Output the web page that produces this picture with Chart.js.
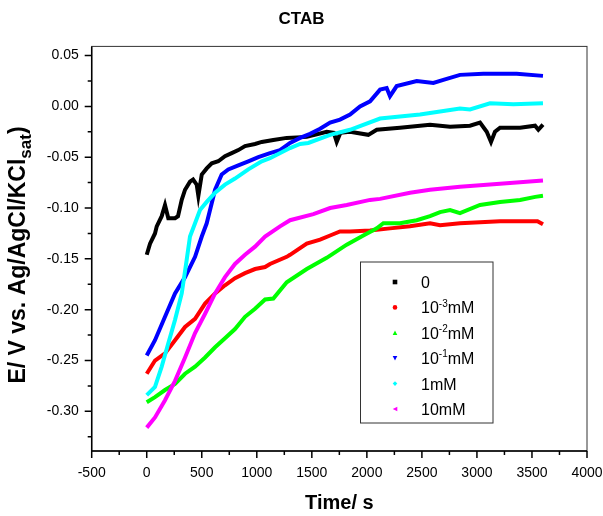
<!DOCTYPE html>
<html>
<head>
<meta charset="utf-8">
<script src="https://cdn.jsdelivr.net/npm/chart.js@4"></script>
<style>
  body { margin: 0; background: #fff; }
  canvas { display: block; }
</style>
</head>
<body>
<canvas id="chart" width="603" height="516"></canvas>
<script>
// series: time (s) and potential (V)
const t0 = [0, 30, 75, 91, 136, 166, 196, 257, 284, 318, 348, 393, 421, 454, 469, 500, 545, 591, 650, 711, 772, 832, 893, 984, 1045, 1150, 1272, 1454, 1635, 1700, 1726, 1760, 1847, 2013, 2090, 2301, 2574, 2756, 2937, 3028, 3089, 3128, 3164, 3210, 3392, 3528, 3558, 3600];
const v0 = [-0.146, -0.135, -0.125, -0.118, -0.108, -0.097, -0.110, -0.110, -0.108, -0.092, -0.082, -0.074, -0.072, -0.077, -0.088, -0.067, -0.061, -0.056, -0.054, -0.049, -0.046, -0.043, -0.039, -0.037, -0.035, -0.033, -0.031, -0.030, -0.025, -0.026, -0.035, -0.026, -0.025, -0.028, -0.023, -0.021, -0.018, -0.020, -0.019, -0.016, -0.025, -0.035, -0.025, -0.021, -0.021, -0.019, -0.023, -0.018];

const t3 = [0, 75, 166, 257, 348, 439, 530, 621, 711, 802, 893, 984, 1075, 1120, 1272, 1302, 1454, 1575, 1666, 1756, 1847, 2029, 2210, 2392, 2574, 2665, 2846, 3210, 3550, 3600];
const v3 = [-0.263, -0.250, -0.243, -0.230, -0.217, -0.209, -0.194, -0.184, -0.176, -0.169, -0.164, -0.160, -0.158, -0.155, -0.148, -0.146, -0.135, -0.131, -0.127, -0.123, -0.123, -0.122, -0.120, -0.118, -0.115, -0.117, -0.115, -0.113, -0.113, -0.116];

const t2 = [0, 75, 166, 257, 348, 439, 530, 621, 711, 802, 893, 984, 1075, 1150, 1272, 1454, 1635, 1817, 1968, 2090, 2150, 2301, 2453, 2574, 2665, 2756, 2846, 3028, 3210, 3392, 3530, 3600];
const v2 = [-0.291, -0.286, -0.279, -0.273, -0.263, -0.256, -0.247, -0.237, -0.228, -0.219, -0.207, -0.199, -0.190, -0.189, -0.173, -0.160, -0.149, -0.136, -0.127, -0.120, -0.115, -0.115, -0.112, -0.108, -0.104, -0.102, -0.105, -0.097, -0.094, -0.092, -0.089, -0.088];

const t1 = [0, 75, 166, 257, 348, 439, 500, 545, 575, 621, 681, 741, 832, 923, 1014, 1120, 1211, 1302, 1393, 1484, 1575, 1666, 1756, 1847, 1938, 2029, 2120, 2180, 2210, 2271, 2453, 2604, 2695, 2846, 3058, 3361, 3600];
const v1 = [-0.245, -0.230, -0.207, -0.184, -0.168, -0.148, -0.128, -0.115, -0.102, -0.082, -0.067, -0.062, -0.058, -0.054, -0.050, -0.046, -0.043, -0.036, -0.031, -0.027, -0.022, -0.016, -0.013, -0.008, 0.000, 0.005, 0.0165, 0.018, 0.010, 0.020, 0.025, 0.023, 0.026, 0.031, 0.032, 0.032, 0.030];

const tOne = [0, 75, 136, 196, 257, 318, 363, 393, 439, 484, 545, 621, 711, 802, 923, 1045, 1120, 1302, 1393, 1468, 1666, 1847, 2120, 2483, 2665, 2846, 2937, 3119, 3331, 3600];
const vOne = [-0.284, -0.276, -0.256, -0.233, -0.210, -0.184, -0.151, -0.128, -0.115, -0.102, -0.094, -0.085, -0.077, -0.071, -0.062, -0.054, -0.051, -0.041, -0.037, -0.036, -0.028, -0.023, -0.012, -0.008, -0.005, -0.002, -0.003, 0.003, 0.002, 0.003];

const tTen = [0, 75, 166, 257, 348, 439, 530, 621, 711, 802, 893, 984, 1075, 1211, 1302, 1514, 1666, 1817, 2029, 2120, 2392, 2574, 2846, 3210, 3600];
const vTen = [-0.316, -0.306, -0.289, -0.270, -0.247, -0.223, -0.204, -0.184, -0.168, -0.155, -0.146, -0.138, -0.128, -0.118, -0.112, -0.106, -0.100, -0.097, -0.092, -0.091, -0.085, -0.082, -0.079, -0.076, -0.073];

const seriesNames = ['0', '10^-3mM', '10^-2mM', '10^-1mM', '1mM', '10mM'];
const seriesColors = ['#000000', '#ff0000', '#00ff00', '#0000ff', '#00ffff', '#ff00ff'];
const seriesMarkers = ['square', 'circle', 'up', 'down', 'diamond', 'left'];
const times = [t0, t3, t2, t1, tOne, tTen];
const values = [v0, v3, v2, v1, vOne, vTen];

const xTicks = [];
for (let i = -20; i <= 160; i += 10) xTicks.push(i * 25);
const yTicks = [];
for (let i = -13; i <= 2; i++) yTicks.push(Math.round(i * 25) / 1000);

const isMajor = (v, step) => Math.abs(v / step - Math.round(v / step)) < 1e-6;

const datasets = seriesNames.map((name, i) => ({
    label: name,
    data: times[i].map((t, j) => ({ x: t, y: values[i][j] })),
    borderColor: seriesColors[i],
    borderWidth: 4,
    pointRadius: 0,
    tension: 0,
    order: seriesNames.length - i
}));

function drawMarker(ctx, kind, x, y, s) {
    ctx.beginPath();
    if (kind === 'square') ctx.rect(x - s, y - s, 2 * s, 2 * s);
    else if (kind === 'circle') ctx.arc(x, y, s, 0, Math.PI * 2);
    else if (kind === 'up') { ctx.moveTo(x, y - s); ctx.lineTo(x + s, y + s); ctx.lineTo(x - s, y + s); }
    else if (kind === 'down') { ctx.moveTo(x, y + s); ctx.lineTo(x + s, y - s); ctx.lineTo(x - s, y - s); }
    else if (kind === 'diamond') { ctx.moveTo(x, y - s); ctx.lineTo(x + s, y); ctx.lineTo(x, y + s); ctx.lineTo(x - s, y); }
    else if (kind === 'left') { ctx.moveTo(x - s, y); ctx.lineTo(x + s, y - s); ctx.lineTo(x + s, y + s); }
    ctx.closePath();
    ctx.fill();
}

// text like 10^-3mM -> "10", superscript "-3", "mM"
function drawSupText(ctx, str, x, y, size) {
    const m = str.match(/^(\d+)\^(-?\d+)(.*)$/);
    ctx.textAlign = 'left';
    ctx.textBaseline = 'alphabetic';
    ctx.font = size + 'px Arial, "Liberation Sans"';
    if (!m) { ctx.fillText(str, x, y); return; }
    ctx.fillText(m[1], x, y);
    x += ctx.measureText(m[1]).width;
    ctx.font = Math.round(size * 0.62) + 'px Arial, "Liberation Sans"';
    ctx.fillText(m[2], x, y - size * 0.42);
    x += ctx.measureText(m[2]).width;
    ctx.font = size + 'px Arial, "Liberation Sans"';
    ctx.fillText(m[3], x, y);
}

const decor = {
    id: 'decor',
    afterDraw(chart) {
        const { ctx, chartArea: a, scales: { x, y } } = chart;
        ctx.save();
        // frame
        ctx.strokeStyle = '#333';
        ctx.lineWidth = 1;
        ctx.strokeRect(a.left, a.top, a.right - a.left, a.bottom - a.top);
        ctx.strokeStyle = '#000';
        ctx.lineWidth = 1.5;
        ctx.beginPath();
        ctx.moveTo(a.left, a.top); ctx.lineTo(a.left, a.bottom); ctx.lineTo(a.right, a.bottom);
        y.ticks.forEach(t => {
            const py = y.getPixelForValue(t.value);
            const len = isMajor(t.value, 0.05) ? 7 : 4;
            ctx.moveTo(a.left - len, py); ctx.lineTo(a.left, py);
        });
        x.ticks.forEach(t => {
            const px = x.getPixelForValue(t.value);
            const len = isMajor(t.value, 500) ? 7 : 4;
            ctx.moveTo(px, a.bottom); ctx.lineTo(px, a.bottom + len);
        });
        ctx.stroke();

        // y axis title with subscript
        ctx.save();
        ctx.translate(25, 255);
        ctx.rotate(-Math.PI / 2);
        ctx.fillStyle = '#000';
        ctx.textBaseline = 'alphabetic';
        ctx.textAlign = 'left';
        const main = 'E/ V vs. Ag/AgCl/KCl', sub = 'sat', tail = ')';
        ctx.font = 'bold 23px Arial, "Liberation Sans"';
        const wMain = ctx.measureText(main).width, wTail = ctx.measureText(tail).width;
        ctx.font = 'bold 17px Arial, "Liberation Sans"';
        const wSub = ctx.measureText(sub).width;
        let px = -(wMain + wSub + wTail) / 2;
        ctx.font = 'bold 23px Arial, "Liberation Sans"';
        ctx.fillText(main, px, 0);
        px += wMain;
        ctx.font = 'bold 17px Arial, "Liberation Sans"';
        ctx.fillText(sub, px, 6);
        px += wSub;
        ctx.font = 'bold 23px Arial, "Liberation Sans"';
        ctx.fillText(tail, px, 0);
        ctx.restore();

        // legend box
        const lx = 360.5, ly = 262, lw = 132.5, lh = 161;
        ctx.strokeStyle = '#333';
        ctx.lineWidth = 1;
        ctx.strokeRect(lx, ly, lw, lh);
        seriesNames.forEach((name, i) => {
            const ry = 282 + i * 25.4;
            ctx.fillStyle = seriesColors[i];
            drawMarker(ctx, seriesMarkers[i], 395, ry, 2.3);
            ctx.fillStyle = '#000';
            drawSupText(ctx, name, 421, ry + 6, 16);
        });
        ctx.restore();
    }
};

new Chart(document.getElementById('chart'), {
    type: 'line',
    data: { datasets },
    plugins: [decor],
    options: {
        responsive: false,
        animation: false,
        devicePixelRatio: 1,
        layout: { padding: { left: 16, right: 16, top: 0, bottom: 0 } },
        plugins: {
            legend: { display: false },
            tooltip: { enabled: false },
            title: {
                display: true,
                text: 'CTAB',
                color: '#000',
                font: { family: 'Arial, "Liberation Sans"', size: 17, weight: 'bold' },
                padding: { top: 9, bottom: 17 }
            }
        },
        scales: {
            x: {
                type: 'linear',
                min: -500,
                max: 4000,
                afterBuildTicks: s => { s.ticks = xTicks.map(v => ({ value: v })); },
                afterFit: s => { s.height = 65; s.paddingLeft = 0; s.paddingRight = 0; },
                grid: { display: false, drawTicks: false },
                border: { display: false },
                ticks: {
                    autoSkip: false,
                    maxRotation: 0,
                    padding: 14,
                    color: '#000',
                    font: { family: 'Arial, "Liberation Sans"', size: 14 },
                    callback: v => isMajor(v, 500) ? String(v) : ''
                },
                title: {
                    display: true,
                    text: 'Time/ s',
                    color: '#000',
                    font: { family: 'Arial, "Liberation Sans"', size: 20, weight: 'bold' },
                    padding: { top: 0, bottom: 1 }
                }
            },
            y: {
                min: -0.339,
                max: 0.059,
                afterBuildTicks: s => { s.ticks = yTicks.map(v => ({ value: v })); },
                afterFit: s => { s.width = 75.7; },
                grid: { display: false, drawTicks: false },
                border: { display: false },
                ticks: {
                    autoSkip: false,
                    padding: 13,
                    color: '#000',
                    font: { family: 'Arial, "Liberation Sans"', size: 14 },
                    callback: v => isMajor(v, 0.05) ? v.toFixed(2) : ''
                }
            }
        }
    }
});
</script>
</body>
</html>
